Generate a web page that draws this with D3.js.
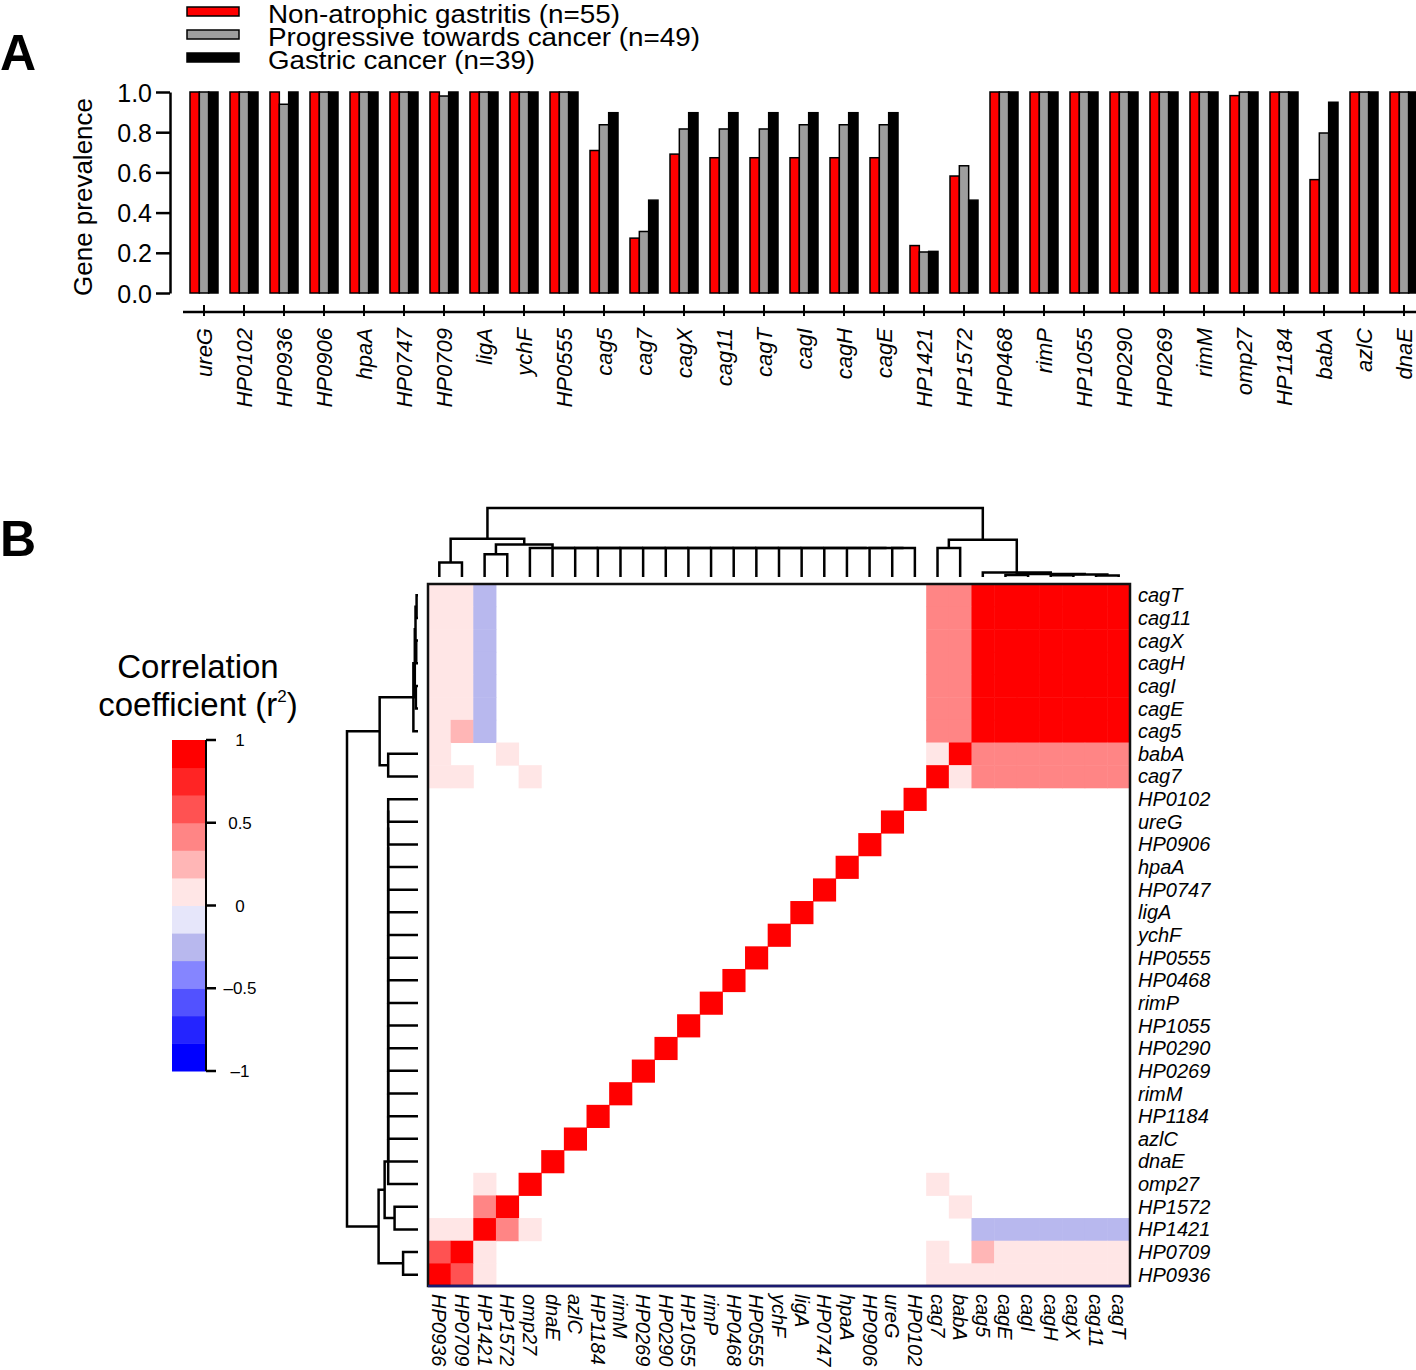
<!DOCTYPE html>
<html><head><meta charset="utf-8">
<script src="https://cdn.jsdelivr.net/npm/d3@7"></script>
<style>
body{margin:0;background:#fff}
svg{display:block}
text{font-family:"Liberation Sans",Arial,Helvetica,sans-serif;fill:#000}
</style>
</head><body>
<svg id="c" width="1416" height="1370"></svg>
<script>
// ---------------- DATA ----------------
const genes = ["ureG","HP0102","HP0936","HP0906","hpaA","HP0747","HP0709","ligA","ychF","HP0555",
  "cag5","cag7","cagX","cag11","cagT","cagI","cagH","cagE","HP1421","HP1572",
  "HP0468","rimP","HP1055","HP0290","HP0269","rimM","omp27","HP1184","babA","azlC","dnaE"];
const seriesNames = ["Non-atrophic gastritis (n=55)","Progressive towards cancer (n=49)","Gastric cancer (n=39)"];
const nonAtrophic = [1,1,1,1,1,1,1,1,1,1, 0.709,0.273,0.691,0.673,0.673,0.673,0.673,0.673,0.236,0.582, 1,1,1,1,1,1,0.982,1,0.564,1,1];
const progressive = [1,1,0.939,1,1,1,0.98,1,1,1, 0.837,0.306,0.816,0.816,0.816,0.837,0.837,0.837,0.204,0.633, 1,1,1,1,1,1,1,1,0.796,1,1];
const gastricCancer = [1,1,1,1,1,1,1,1,1,1, 0.897,0.462,0.897,0.897,0.897,0.897,0.897,0.897,0.207,0.462, 1,1,1,1,1,1,1,1,0.949,1,1];
const yTicks = [0,0.2,0.4,0.6,0.8,1.0];

// heatmap column order (left->right); rows are the reverse (top->bottom)
const heatCols = ["HP0936","HP0709","HP1421","HP1572","omp27","dnaE","azlC","HP1184","rimM","HP0269",
  "HP0290","HP1055","rimP","HP0468","HP0555","ychF","ligA","HP0747","hpaA","HP0906","ureG","HP0102",
  "cag7","babA","cag5","cagE","cagI","cagH","cagX","cag11","cagT"];
const cagGenes = ["cag5","cagE","cagI","cagH","cagX","cag11","cagT"];
// [genes A, genes B, r] blocks of off-diagonal correlation (white = not shown)
const corrBlocks = [
  [cagGenes, cagGenes, 1.0],
  [["cag7","babA"], cagGenes, 0.45],
  [["cag7"], ["babA"], 0.1],
  [["HP0936"], ["cag7","babA","cag5","cagE","cagI","cagH","cagX","cag11","cagT"], 0.1],
  [["HP0709"], ["cag7","cagE","cagI","cagH","cagX","cag11","cagT"], 0.1],
  [["HP0709"], ["cag5"], 0.25],
  [["HP1421"], cagGenes, -0.25],
  [["HP1421"], ["HP0936","HP0709","omp27"], 0.1],
  [["HP1421"], ["HP1572"], 0.42],
  [["HP0936"], ["HP0709"], 0.6],
  [["HP1572"], ["babA"], 0.1],
  [["omp27"], ["cag7"], 0.1]
];
// dendrogram linkage: [child a, child b, height]; nodes "n<i>" refer to earlier merges
const merges = [
  ["cag11","cagT",0.02], ["cagH","cagX",0.025], ["n1","n0",0.035], ["cagE","cagI",0.03],
  ["n3","n2",0.045], ["cag5","n4",0.065], ["cag7","babA",0.42], ["n6","n5",0.54],
  ["HP0936","HP0709",0.21], ["HP1421","HP1572",0.33],
  ["ureG","HP0102",0.42], ["HP0906","n10",0.42], ["hpaA","n11",0.42], ["HP0747","n12",0.42],
  ["ligA","n13",0.42], ["ychF","n14",0.42], ["HP0555","n15",0.42], ["HP0468","n16",0.42],
  ["rimP","n17",0.42], ["HP1055","n18",0.42], ["HP0290","n19",0.42], ["HP0269","n20",0.42],
  ["rimM","n21",0.42], ["HP1184","n22",0.42], ["azlC","n23",0.42], ["dnaE","n24",0.42],
  ["omp27","n25",0.42],
  ["n9","n26",0.47], ["n8","n27",0.555], ["n28","n7",1.0]
];
const binEdges = [-1,-5/6,-4/6,-3/6,-2/6,-1/6,0,1/6,2/6,3/6,4/6,5/6,1];
const binColors = ["#0000ff","#2424ff","#5252ff","#8585ff","#b8b8ee","#e6e6fa","#ffe6e6","#ffb6b6","#ff8585","#ff5252","#ff2424","#ff0000"];
const cbTicks = [1,0.5,0,-0.5,-1];
const cbTickLabels = ["1","0.5","0","\u20130.5","\u20131"];

// ---------------- STYLES ----------------
const seriesColors = ["#ff0000","#9e9e9e","#000000"];
const legendWidths = [352,432,267];

const svg = d3.select("#c");

// ---------------- PANEL A ----------------
svg.append("text").attr("x",0).attr("y",70).attr("font-size",50).attr("font-weight","bold").text("A");
svg.append("text").attr("x",0).attr("y",556).attr("font-size",50).attr("font-weight","bold").text("B");

// legend
seriesNames.forEach((s,i)=>{
  const yb = [23,46,69][i];
  svg.append("rect").attr("x",187).attr("y",yb-16).attr("width",52).attr("height",9)
    .attr("fill",seriesColors[i]).attr("stroke","#000").attr("stroke-width",1.5);
  svg.append("text").attr("x",268).attr("y",yb).attr("font-size",26.5)
    .attr("textLength",legendWidths[i]).attr("lengthAdjust","spacingAndGlyphs").text(s);
});

const x0 = d3.scaleBand(genes,[184,1424]).paddingInner(0.3).paddingOuter(0.15);
const x1 = d3.scaleBand([0,1,2],[0,x0.bandwidth()]);
const yA = d3.scaleLinear([0,1],[293,92]);
const seriesVals = [nonAtrophic, progressive, gastricCancer];

const gBars = svg.append("g");
genes.forEach((g,gi)=>{
  seriesVals.forEach((vals,si)=>{
    gBars.append("rect").attr("x",x0(g)+x1(si)).attr("y",yA(vals[gi]))
      .attr("width",x1.bandwidth()).attr("height",yA(0)-yA(vals[gi]))
      .attr("fill",seriesColors[si]).attr("stroke","#000").attr("stroke-width",1.5);
  });
});

// y axis
const yAx = svg.append("g").attr("transform","translate(170,0)")
  .call(d3.axisLeft(yA).tickValues(yTicks).tickFormat(d3.format(".1f")).tickSize(14).tickSizeOuter(0));
yAx.select(".domain").attr("stroke","#000").attr("stroke-width",2.5);
yAx.selectAll(".tick line").attr("stroke","#000").attr("stroke-width",2.5);
yAx.selectAll(".tick text").attr("font-size",25).attr("x",-18).attr("dy","0.36em")
  .style("font-family","'Liberation Sans',Arial,sans-serif").attr("fill","#000");
svg.append("text").attr("transform","translate(92,197) rotate(-90)").attr("text-anchor","middle")
  .attr("font-size",26).text("Gene prevalence");

// x axis (offset)
svg.append("line").attr("x1",183).attr("x2",1416).attr("y1",312).attr("y2",312)
  .attr("stroke","#000").attr("stroke-width",2.5);
genes.forEach(g=>{
  const cx = x0(g)+x0.bandwidth()/2;
  svg.append("line").attr("x1",cx).attr("x2",cx).attr("y1",305).attr("y2",316)
    .attr("stroke","#000").attr("stroke-width",2);
  svg.append("text").attr("transform",`translate(${cx+8},328) rotate(-90)`)
    .attr("text-anchor","end").attr("font-size",22).attr("font-style","italic").text(g);
});

// ---------------- PANEL B ----------------
const heatRows = heatCols.slice().reverse();
const xB = d3.scaleBand(heatCols,[428,1130]);
const yB = d3.scaleBand(heatRows,[584,1286]);
const color = d3.scaleThreshold().domain(binEdges.slice(1,-1)).range(binColors);

const corr = new Map();
corrBlocks.forEach(([A,B,r])=>{
  A.forEach(a=>B.forEach(b=>{ if(a!==b){corr.set(a+"|"+b,r); corr.set(b+"|"+a,r);} }));
});
const gCells = svg.append("g");
heatRows.forEach(rg=>{
  heatCols.forEach(cg=>{
    const v = rg===cg ? 1 : corr.get(rg+"|"+cg);
    if(v===undefined) return;
    gCells.append("rect").attr("x",xB(cg)).attr("y",yB(rg))
      .attr("width",xB.bandwidth()+0.5).attr("height",yB.bandwidth()+0.5)
      .attr("fill",color(v));
  });
});
svg.append("rect").attr("x",428).attr("y",584).attr("width",702).attr("height",702)
  .attr("fill","none").attr("stroke","#111").attr("stroke-width",2.5);
svg.append("line").attr("x1",428).attr("x2",1130).attr("y1",1286).attr("y2",1286)
  .attr("stroke","#1a1a70").attr("stroke-width",2.5);

// row labels
heatRows.forEach(g=>{
  svg.append("text").attr("x",1138).attr("y",yB(g)+yB.bandwidth()/2+7)
    .attr("font-size",20).attr("font-style","italic").text(g);
});
// column labels
heatCols.forEach(g=>{
  const cx = xB(g)+xB.bandwidth()/2;
  svg.append("text").attr("transform",`translate(${cx-7},1294) rotate(90)`)
    .attr("font-size",20).attr("font-style","italic").text(g);
});

// dendrograms
const pos = {}, hgt = {};
heatCols.forEach((g,i)=>{pos[g]=i; hgt[g]=0;});
merges.forEach(([a,b,h],i)=>{ pos["n"+i]=(pos[a]+pos[b])/2; hgt["n"+i]=h; });
const n = heatCols.length-1;
const xPos = d3.scaleLinear([0,n],[xB(heatCols[0])+xB.bandwidth()/2, xB(heatCols[n])+xB.bandwidth()/2]);
const yPos = d3.scaleLinear([0,n],[yB(heatCols[0])+yB.bandwidth()/2, yB(heatCols[n])+yB.bandwidth()/2]);
const hTop = d3.scaleLinear([0,1],[577,508]);
const hLeft = d3.scaleLinear([0,1],[418,347]);
const gD = svg.append("g").attr("fill","none").attr("stroke","#000").attr("stroke-width",2.5);
merges.forEach(([a,b,h])=>{
  gD.append("path").attr("d",
    `M${xPos(pos[a])},${hTop(hgt[a])}V${hTop(h)}H${xPos(pos[b])}V${hTop(hgt[b])}`);
  gD.append("path").attr("d",
    `M${hLeft(hgt[a])},${yPos(pos[a])}H${hLeft(h)}V${yPos(pos[b])}H${hLeft(hgt[b])}`);
});

// colour bar
const cbY = d3.scaleLinear([-1,1],[1071,740]);
binColors.forEach((c,i)=>{
  svg.append("rect").attr("x",172).attr("width",34)
    .attr("y",cbY(binEdges[i+1])).attr("height",cbY(binEdges[i])-cbY(binEdges[i+1])+0.5)
    .attr("fill",c);
});
svg.append("line").attr("x1",206).attr("x2",206).attr("y1",cbY(-1)).attr("y2",cbY(1))
  .attr("stroke","#000").attr("stroke-width",2);
cbTicks.forEach((t,i)=>{
  svg.append("line").attr("x1",206).attr("x2",216).attr("y1",cbY(t)).attr("y2",cbY(t))
    .attr("stroke","#000").attr("stroke-width",2.5);
  svg.append("text").attr("x",240).attr("y",cbY(t)+6).attr("text-anchor","middle")
    .attr("font-size",17).text(cbTickLabels[i]);
});
svg.append("text").attr("x",198).attr("y",678).attr("text-anchor","middle").attr("font-size",33).text("Correlation");
const t2 = svg.append("text").attr("x",198).attr("y",716).attr("text-anchor","middle").attr("font-size",33);
t2.append("tspan").text("coefficient (r");
t2.append("tspan").attr("font-size",17).attr("dy",-14).text("2");
t2.append("tspan").attr("dy",14).text(")");
</script>
</body></html>
